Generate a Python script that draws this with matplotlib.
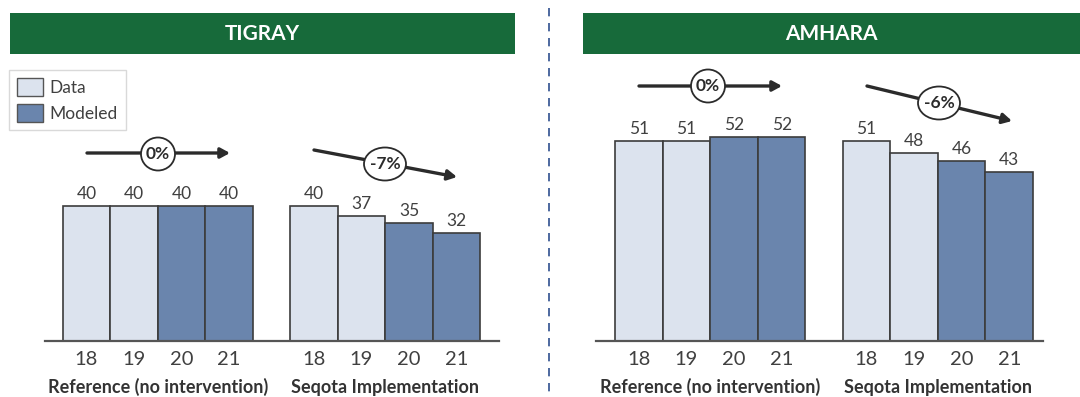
import numpy as np
import matplotlib
matplotlib.use("Agg")
import matplotlib.pyplot as plt
from matplotlib.patches import Rectangle, Ellipse, Patch

plt.rcParams['font.family'] = ['Lato', 'DejaVu Sans']

# ---- data ----
years = ["18", "19", "20", "21"]
groups = ["Reference (no intervention)", "Seqota Implementation"]
tigray_ref = [40, 40, 40, 40]
tigray_seq = [40, 37, 35, 32]
amhara_ref = [51, 51, 52, 52]
amhara_seq = [51, 48, 46, 43]
kind = ["Data", "Data", "Modeled", "Modeled"]
tigray_change = ["0%", "-7%"]
amhara_change = ["0%", "-6%"]

DATA_C = "#dce3ee"
MOD_C = "#6a85ad"
EDGE_C = "#3c3c3c"
GREEN = "#176a3a"
TXT = "#404040"

W, H = 1080, 397
fig = plt.figure(figsize=(W / 100, H / 100), dpi=100)

GAP = 0.78


def px_axes(x0, x1, ytop, ybase):
    return fig.add_axes([x0 / W, (H - ybase) / H, (x1 - x0) / W, (ybase - ytop) / H])


def draw_panel(ax, ref, seq, px_per_unit, axh):
    pos1 = np.arange(4)
    pos2 = np.arange(4) + 4 + GAP
    cols = [DATA_C if k == "Data" else MOD_C for k in kind]
    for pos, vals in ((pos1, ref), (pos2, seq)):
        bc = ax.bar(pos, vals, width=1.0, color=cols, edgecolor=EDGE_C, linewidth=1.2, zorder=2)
        ax.bar_label(bc, labels=[str(v) for v in vals], padding=3, fontsize=12.5, color=TXT)
    ax.set_xticks(list(pos1) + list(pos2))
    ax.set_xticklabels(years * 2, fontsize=14.5, color=TXT)
    ax.tick_params(axis='x', length=0, pad=7)
    ax.set_yticks([])
    for s in ("left", "right", "top"):
        ax.spines[s].set_visible(False)
    ax.spines["bottom"].set_color("#555555")
    ax.spines["bottom"].set_linewidth(1.6)
    ax.set_ylim(0, axh / px_per_unit)
    for g, p in zip(groups, (pos1, pos2)):
        ax.text(p.mean(), -0.165, g, transform=ax.get_xaxis_transform(),
                ha="center", va="center", fontsize=13, fontweight="bold", color="#333333")


# left panel (Tigray)
axL = px_axes(45, 499, 60, 341)
draw_panel(axL, tigray_ref, tigray_seq, 3.375, 281)
axL.set_xlim(-0.87, 8.67)

# right panel (Amhara)
axR = px_axes(596, 1043, 60, 341)
draw_panel(axR, amhara_ref, amhara_seq, 3.92, 281)
axR.set_xlim(-0.9, 8.49)

# ---- overlay in pixel coordinates ----
ov = fig.add_axes([0, 0, 1, 1], zorder=5)
ov.set_xlim(0, W)
ov.set_ylim(H, 0)
ov.axis("off")
ov.patch.set_alpha(0)

# header bars
for x0, x1, name in ((10, 515, "TIGRAY"), (583, 1080, "AMHARA")):
    ov.add_patch(Rectangle((x0, 13), x1 - x0, 41, facecolor=GREEN, edgecolor="none"))
    ov.text((x0 + x1) / 2, 34, name, ha="center", va="center", color="white",
            fontsize=15, fontweight="bold")

# dashed divider
ov.plot([549, 549], [8, 397], color="#2f4f8f", lw=1.2, ls=(0, (5, 4)))

# trend arrows with % circles
arrows = [
    ((87, 153), (230, 153), (158, 154), 34, tigray_change[0]),
    ((314, 150), (457, 177), (385, 164), 42, tigray_change[1]),
    ((639, 86), (782, 86), (708, 86), 34, amhara_change[0]),
    ((867, 86), (1012, 121), (939, 103), 42, amhara_change[1]),
]
for start, end, c, ew, lab in arrows:
    ov.annotate("", xy=end, xytext=start,
                arrowprops=dict(arrowstyle="-|>,head_length=0.55,head_width=0.3",
                                color="#2b2b2b", lw=2.4, shrinkA=0, shrinkB=0))
    ov.add_patch(Ellipse(c, ew, 33, facecolor="white", edgecolor="#2b2b2b", lw=1.3, zorder=6))
    ov.text(c[0], c[1], lab, ha="center", va="center", fontsize=12.5,
            fontweight="bold", color="#2b2b2b", zorder=7)

# legend
handles = [Patch(facecolor=DATA_C, edgecolor="#555555", label="Data"),
           Patch(facecolor=MOD_C, edgecolor="#555555", label="Modeled")]
fig.legend(handles=handles, loc="upper left", bbox_to_anchor=(9 / W, 1 - 70 / H),
           frameon=True, fancybox=False, edgecolor="#d0d0d0", fontsize=12.5,
           handlelength=1.5, handleheight=1.25, handletextpad=0.4,
           labelspacing=0.45, borderpad=0.45, borderaxespad=0,
           labelcolor=TXT)

fig.savefig("out.png", dpi=100)
